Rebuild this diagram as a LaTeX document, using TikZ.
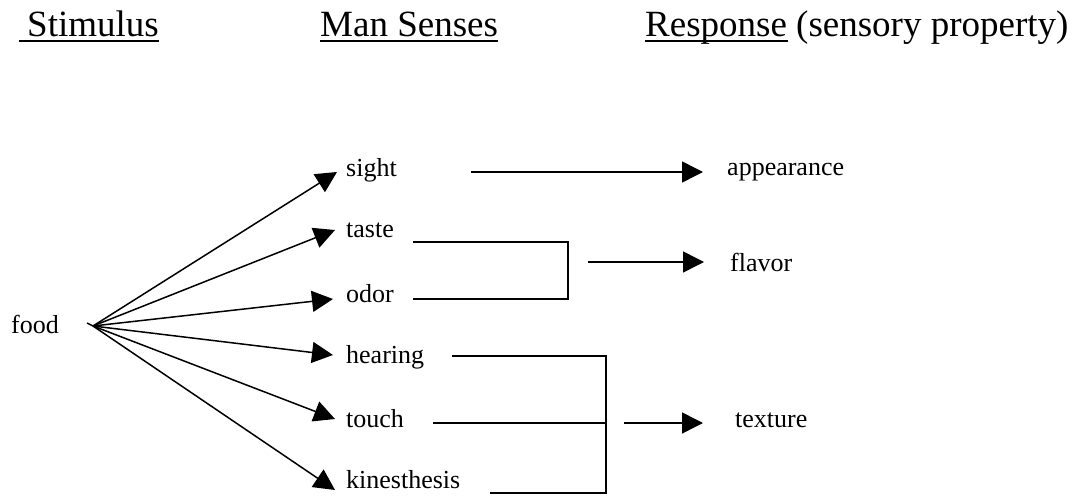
\documentclass[tikz,border=0pt]{standalone}
\usepackage{fontspec}
\setmainfont{Liberation Serif}
\usetikzlibrary{arrows.meta}
\tikzset{
  head/.style={font=\fontsize{37}{40}\selectfont, anchor=base west, inner sep=0pt},
  lbl/.style={font=\fontsize{26}{30}\selectfont, anchor=base west, inner sep=0pt},
  conn/.style={line width=1.5pt},
  arr/.style={line width=1.5pt, -{Triangle[length=21pt,width=21pt]}},
  uline/.style={line width=2.2pt}
}
\begin{document}
\begin{tikzpicture}[x=1pt,y=-1pt]
\useasboundingbox (0,0) rectangle (1079,497);
% headings
\node[head] (stim) at (27,37) {Stimulus};
\node[head] (man) at (320,37) {Man Senses};
\node[head] (resp) at (645,37) {Response};
\node[head] (prop) at (796,37) {(sensory property)};
\draw[uline] (19,41) -- (159,41);
\draw[uline] (320,41) -- (498,41);
\draw[uline] (645,41) -- (788,41);
% left
\node[lbl] (food) at (11,333) {food};
\coordinate (src) at (93,326);
\node[lbl] (sight) at (346,177) {sight};
\node[lbl] (taste) at (346,238) {taste};
\node[lbl] (odor) at (346,302) {odor};
\node[lbl] (hearing) at (346,363) {hearing};
\node[lbl] (touch) at (346,427) {touch};
\node[lbl] (kin) at (346,488) {kinesthesis};
\coordinate (tsight) at (337,172);
\coordinate (ttaste) at (335,230);
\coordinate (todor) at (333,299);
\coordinate (thear) at (333,355);
\coordinate (ttouch) at (335,419);
\coordinate (tkin) at (335,490);
\draw[conn] (87,323) -- (src);
\draw[arr] (src) -- (tsight);
\draw[arr] (src) -- (ttaste);
\draw[arr] (src) -- (todor);
\draw[arr] (src) -- (thear);
\draw[arr] (src) -- (ttouch);
\draw[arr] (src) -- (tkin);
% responses
\node[lbl] (app) at (727,176) {appearance};
\node[lbl] (flav) at (730,271) {flavor};
\node[lbl] (tex) at (735,427) {texture};
% sight -> appearance
\coordinate (a1) at (471,172);
\coordinate (a2) at (703,172);
\draw[arr] (a1) -- (a2);
% taste/odor bracket
\coordinate (b1) at (413,242);
\coordinate (b2) at (568,242);
\coordinate (b3) at (568,299);
\coordinate (b4) at (413,299);
\draw[conn] (b1) -- (b2) -- (b3) -- (b4);
\coordinate (f1) at (588,262);
\coordinate (f2) at (704,262);
\draw[arr] (f1) -- (f2);
% texture bracket
\coordinate (h1) at (452,356);
\coordinate (h2) at (606,356);
\coordinate (k2) at (606,493);
\coordinate (k1) at (490,493);
\coordinate (u1) at (433,423);
\coordinate (u2) at (606,423);
\draw[conn] (h1) -- (h2) -- (k2) -- (k1);
\draw[conn] (u1) -- (u2);
\coordinate (x1) at (624,423);
\coordinate (x2) at (703,423);
\draw[arr] (x1) -- (x2);
\end{tikzpicture}
\end{document}
